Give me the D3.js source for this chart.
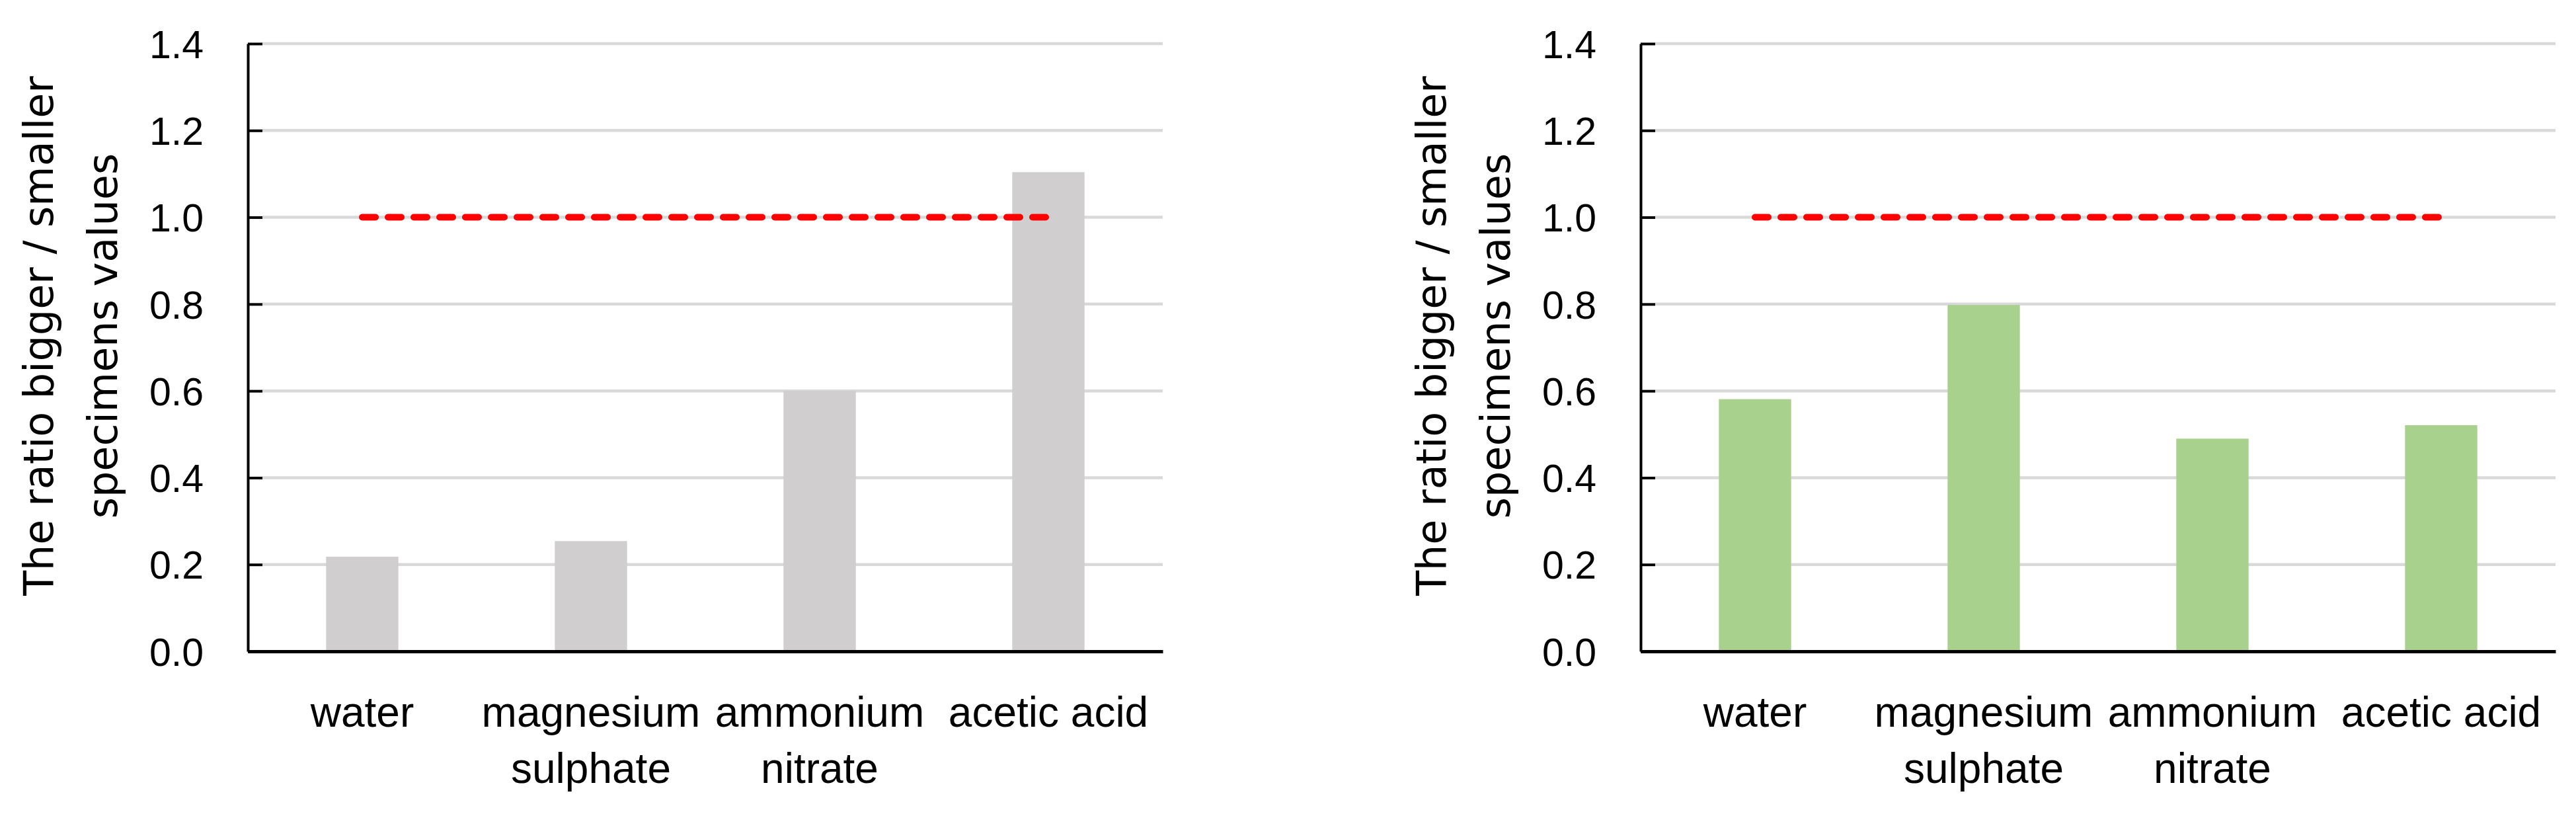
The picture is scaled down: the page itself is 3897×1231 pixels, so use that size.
<!DOCTYPE html>
<html>
<head>
<meta charset="utf-8">
<script src="https://cdn.jsdelivr.net/npm/d3@7"></script>
<style>
  body { margin: 0; background: #fff; }
  .tick text { font-family: "Liberation Sans", Arial, sans-serif; fill: #000; }
</style>
</head>
<body>
<script>
// data
var categories = ["water", "magnesium sulphate", "ammonium nitrate", "acetic acid"],
    categoryLines = [["water"], ["magnesium", "sulphate"], ["ammonium", "nitrate"], ["acetic acid"]],
    leftValues = [0.218, 0.254, 0.600, 1.104],
    rightValues = [0.581, 0.798, 0.490, 0.521],
    refValues = [1.0, 1.0, 1.0, 1.0],
    yTicks = [0, 0.2, 0.4, 0.6, 0.8, 1.0, 1.2, 1.4],
    titleLines = ["The ratio bigger / smaller", "specimens values"]

var W = 3897, H = 1231

var svg = d3.select("body").append("svg")
    .attr("width", W)
    .attr("height", H)

svg.append("rect").attr("width", W).attr("height", H).attr("fill", "#fff")

var y = d3.scaleLinear().domain([0, 1.4]).range([985, 66])

function panel(ox, values, color) {
    var g = svg.append("g").attr("transform", "translate(" + ox + ",0)")

    var x = d3.scaleBand()
        .domain(categories)
        .range([375, 1759])
        .paddingInner(0.684)
        .paddingOuter(0.342)

    // gridlines
    g.append("g").selectAll("line")
        .data(yTicks.slice(1))
        .join("line")
        .attr("x1", 397)
        .attr("x2", 1759)
        .attr("y1", function(d) { return y(d) })
        .attr("y2", function(d) { return y(d) })
        .attr("stroke", "#d9d9d9")
        .attr("stroke-width", 4.5)

    // bars
    g.append("g").selectAll("rect")
        .data(values)
        .join("rect")
        .attr("x", function(d, i) { return x(categories[i]) })
        .attr("width", x.bandwidth())
        .attr("y", function(d) { return y(d) })
        .attr("height", function(d) { return y(0) - y(d) })
        .attr("fill", color)

    // reference line at 1.0
    var line = d3.line()
        .x(function(d, i) { return x(categories[i]) + x.bandwidth() / 2 })
        .y(function(d) { return y(d) })

    g.append("path")
        .datum(refValues)
        .attr("d", line)
        .attr("fill", "none")
        .attr("stroke", "#ff0000")
        .attr("stroke-width", 10)
        .attr("stroke-linecap", "round")
        .attr("stroke-dasharray", "20,19")

    // y axis
    var yAxis = g.append("g")
        .attr("transform", "translate(375,0)")
        .call(d3.axisLeft(y)
            .tickValues(yTicks)
            .tickFormat(d3.format(".1f"))
            .tickSizeInner(-22)
            .tickSizeOuter(0)
            .tickPadding(67))
    yAxis.select(".domain").attr("stroke", "#000").attr("stroke-width", 4)
    yAxis.selectAll(".tick line").attr("stroke", "#000").attr("stroke-width", 4)
    yAxis.selectAll(".tick text")
        .attr("font-size", 59)
        .attr("dy", "0.36em")

    // x axis
    var xAxis = g.append("g")
        .attr("transform", "translate(0,985)")
        .call(d3.axisBottom(x).tickSize(0).tickSizeOuter(0))
    xAxis.select(".domain").attr("stroke", "#000").attr("stroke-width", 5)
    xAxis.selectAll(".tick text")
        .attr("font-size", 64)
        .attr("y", null)
        .attr("dy", null)
        .text(null)
        .each(function(d, i) {
            var t = d3.select(this)
            categoryLines[i].forEach(function(s, j) {
                t.append("tspan").attr("x", 0).attr("y", 114 + j * 85).text(s)
            })
        })

    // axis title
    titleLines.forEach(function(s, j) {
        g.append("text")
            .attr("transform", "translate(" + (80 + j * 97) + ",508) rotate(-90)")
            .attr("text-anchor", "middle")
            .attr("font-family", "'DejaVu Sans', Verdana, sans-serif")
            .attr("font-size", 62)
            .attr("fill", "#000")
            .text(s)
    })
}

panel(0, leftValues, "#d0cece")
panel(2107, rightValues, "#a9d18e")
</script>
</body>
</html>
